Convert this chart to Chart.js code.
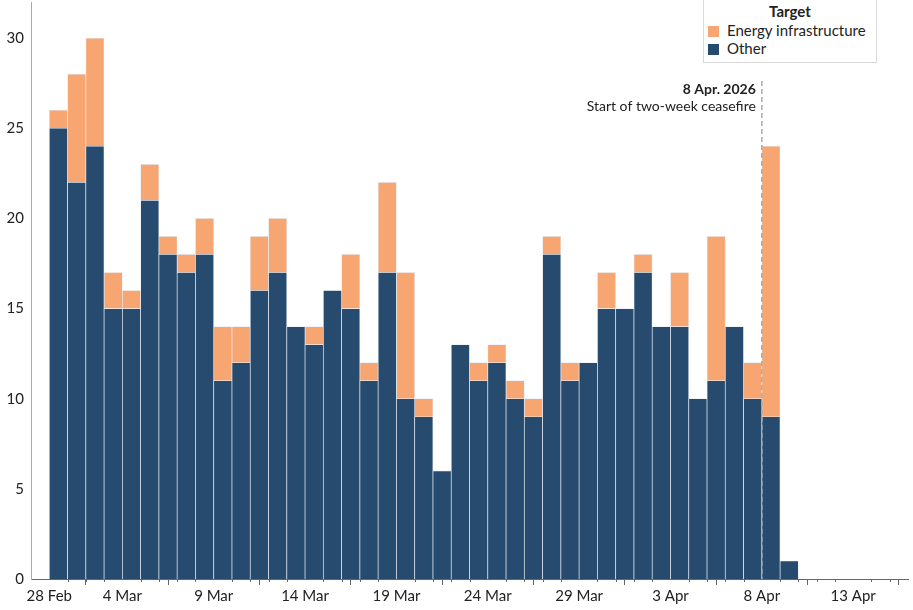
<!DOCTYPE html>
<html>
<head>
<meta charset="utf-8">
<script src="https://cdn.jsdelivr.net/npm/chart.js@4.4.1/dist/chart.umd.min.js"></script>
<style>
  html, body { margin: 0; padding: 0; background: #fff; }
  #wrap { position: relative; width: 913px; height: 610px; }
  #legend {
    position: absolute; left: 703px; top: -1px; width: 174px; height: 64px;
    box-sizing: border-box; border: 1px solid #d9d9d9; background: #fff;
    font-family: Lato, sans-serif; font-size: 15px; color: #222; padding: 2px 0 0 4px;
  }
  #legend .title { font-weight: bold; text-align: center; line-height: 19px; padding-right: 4px; }
  #legend .item { line-height: 18px; white-space: nowrap; }
  #legend .sw { display: inline-block; width: 11px; height: 11px; margin-right: 8px; vertical-align: -1px; }
</style>
</head>
<body>
<div id="wrap">
  <canvas id="chart" width="913" height="610"></canvas>
  <div id="legend"></div>
</div>
<script>
// one bar per day, 28 Feb .. 9 Apr 2026
const dates = [
  "2026-02-28", "2026-03-01", "2026-03-02", "2026-03-03", "2026-03-04", "2026-03-05", "2026-03-06",
  "2026-03-07", "2026-03-08", "2026-03-09", "2026-03-10", "2026-03-11", "2026-03-12", "2026-03-13",
  "2026-03-14", "2026-03-15", "2026-03-16", "2026-03-17", "2026-03-18", "2026-03-19", "2026-03-20",
  "2026-03-21", "2026-03-22", "2026-03-23", "2026-03-24", "2026-03-25", "2026-03-26", "2026-03-27",
  "2026-03-28", "2026-03-29", "2026-03-30", "2026-03-31", "2026-04-01", "2026-04-02", "2026-04-03",
  "2026-04-04", "2026-04-05", "2026-04-06", "2026-04-07", "2026-04-08", "2026-04-09",
];
const other = [25, 22, 24, 15, 15, 21, 18, 17, 18, 11, 12, 16, 17, 14, 13, 16, 15, 11, 17, 10, 9,
  6, 13, 11, 12, 10, 9, 18, 11, 12, 15, 15, 17, 14, 14, 10, 11, 14, 10, 9, 1];
const energy = [1, 6, 6, 2, 1, 2, 1, 1, 2, 3, 2, 3, 3, 0, 1, 0, 3, 1, 5, 7, 1,
  0, 0, 1, 1, 1, 1, 1, 1, 0, 2, 0, 1, 0, 3, 0, 8, 0, 2, 15, 0];

const xTickDates = ["2026-02-28", "2026-03-04", "2026-03-09", "2026-03-14", "2026-03-19",
  "2026-03-24", "2026-03-29", "2026-04-03", "2026-04-08", "2026-04-13"];
const xTickLabels = ["28 Feb", "4 Mar", "9 Mar", "14 Mar", "19 Mar", "24 Mar", "29 Mar", "3 Apr", "8 Apr", "13 Apr"];
const yTicks = [0, 5, 10, 15, 20, 25, 30];
const xFrom = "2026-02-27", xTo = "2026-04-16";

const ceasefireDate = "2026-04-08";
const ceasefireTitle = "8 Apr. 2026";
const ceasefireText = "Start of two-week ceasefire";

const NAVY = "#274b6e", ORANGE = "#f7a672";
const FONT = "Lato, 'Open Sans', sans-serif";

// days since first bar
const dayNum = (s) => (Date.parse(s + "T00:00:00Z") - Date.parse(dates[0] + "T00:00:00Z")) / 86400000;
const labelAt = new Map(xTickDates.map((d, i) => [dayNum(d), xTickLabels[i]]));
const pts = (arr) => arr.map((v, i) => ({ x: dayNum(dates[i]) + 0.5, y: v }));

Chart.defaults.font.family = FONT;
Chart.defaults.color = "#222";

const minorTicks = {
  id: "minorTicks",
  afterDraw(chart) {
    const { ctx, scales: { x }, chartArea } = chart;
    ctx.save();
    ctx.strokeStyle = "#666";
    ctx.lineWidth = 1;
    for (let d = dayNum(xFrom) + 1; d < dayNum(xTo); d++) {
      if (labelAt.has(d)) continue;
      const px = Math.round(x.getPixelForValue(d)) + 0.5;
      ctx.beginPath(); ctx.moveTo(px, chartArea.bottom); ctx.lineTo(px, chartArea.bottom + 3); ctx.stroke();
    }
    ctx.restore();
  },
};

const ceasefire = {
  id: "ceasefire",
  afterDatasetsDraw(chart) {
    const { ctx, scales: { x }, chartArea } = chart;
    const px = x.getPixelForValue(dayNum(ceasefireDate));
    ctx.save();
    ctx.strokeStyle = "#aaaaaa";
    ctx.lineWidth = 1.5;
    ctx.setLineDash([5, 3]);
    ctx.beginPath(); ctx.moveTo(px, 81); ctx.lineTo(px, chartArea.bottom); ctx.stroke();
    ctx.setLineDash([]);
    ctx.fillStyle = "#222";
    ctx.textAlign = "right";
    ctx.textBaseline = "middle";
    ctx.font = "bold 14px " + FONT;
    ctx.fillText(ceasefireTitle, px - 6, 89);
    ctx.font = "14px " + FONT;
    ctx.fillText(ceasefireText, px - 6, 106);
    ctx.restore();
  },
};

const chart = new Chart(document.getElementById("chart"), {
  type: "bar",
  data: {
    datasets: [
      { label: "Other", data: pts(other), backgroundColor: NAVY },
      { label: "Energy infrastructure", data: pts(energy), backgroundColor: ORANGE },
    ],
  },
  options: {
    responsive: false,
    animation: false,
    layout: { padding: { top: 2, right: 5, left: 0, bottom: 0 } },
    datasets: {
      bar: { barPercentage: 1, categoryPercentage: 1, borderWidth: 0.7, borderColor: "rgba(225,232,240,0.85)", borderSkipped: "bottom" },
    },
    plugins: { legend: { display: false }, tooltip: { enabled: false } },
    scales: {
      x: {
        type: "linear", stacked: true, offset: false,
        min: dayNum(xFrom), max: dayNum(xTo),
        afterBuildTicks: (s) => { s.ticks = [...labelAt.keys()].map((v) => ({ value: v })); },
        afterFit: (s) => { s.height = 31; s.paddingLeft = 0; s.paddingRight = 0; },
        border: { color: "#666", width: 1 },
        grid: { drawOnChartArea: false, tickLength: 6, tickColor: "#666" },
        ticks: { autoSkip: false, maxRotation: 0, padding: 2, font: { size: 15 }, callback: (v) => labelAt.get(v) || "" },
      },
      y: {
        stacked: true, min: 0, max: 32,
        afterBuildTicks: (s) => { s.ticks = yTicks.map((v) => ({ value: v })); },
        afterFit: (s) => { s.width = 31; s.paddingTop = 0; s.paddingBottom = 0; },
        border: { color: "#aaa", width: 1 },
        grid: { display: false, drawTicks: false },
        ticks: { padding: 7, font: { size: 15 } },
      },
    },
  },
  plugins: [minorTicks, ceasefire],
});

// legend: energy on top, as in the stack
const legend = document.getElementById("legend");
legend.innerHTML = `<div class="title">Target</div>` + [...chart.data.datasets].reverse()
  .map((d) => `<div class="item"><span class="sw" style="background:${d.backgroundColor}"></span>${d.label}</div>`).join("");
</script>
</body>
</html>
